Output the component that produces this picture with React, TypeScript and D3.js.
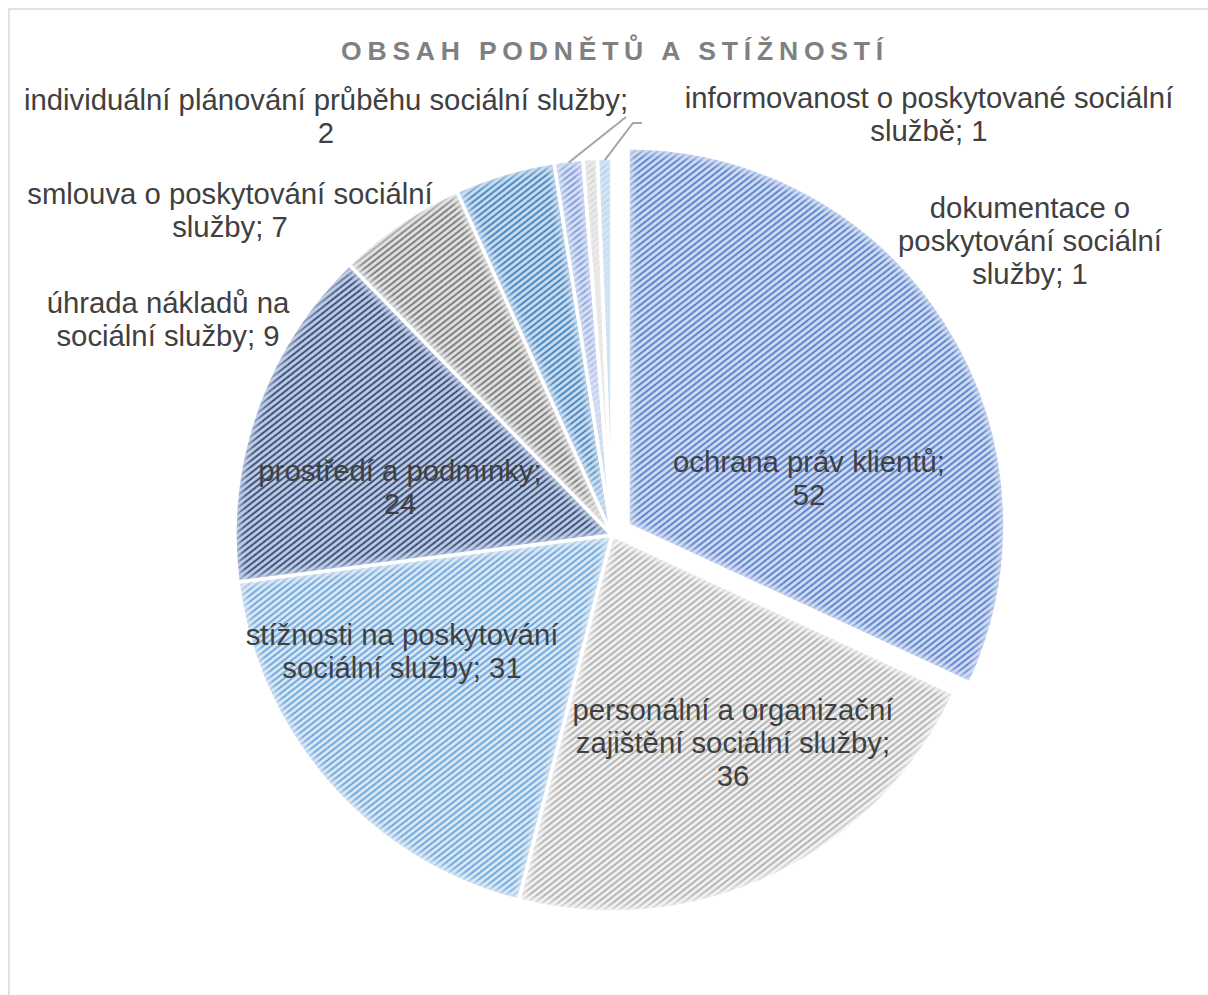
import React from "react";
import * as d3 from "d3";

const title = "OBSAH PODNĚTŮ A STÍŽNOSTÍ";
const categories = [
  "ochrana práv klientů",
  "personální a organizační zajištění sociální služby",
  "stížnosti na poskytování sociální služby",
  "prostředí a podmínky",
  "úhrada nákladů na sociální služby",
  "smlouva o poskytování sociální služby",
  "individuální plánování průběhu sociální služby",
  "dokumentace o poskytování sociální služby",
  "informovanost o poskytované sociální službě",
];
const values = [52, 36, 31, 24, 9, 7, 2, 1, 1];

// styling (background tint, stripe colour) per slice
const bgColors = ["#d3ddf3", "#f3f3f3", "#dce9f6", "#c2cfe9", "#e4e4e4", "#cddff1", "#d9e1f4", "#ebebeb", "#d6e6f5"];
const stripeColors = ["#4472c4", "#a6a6a6", "#5b9bd5", "#203864", "#6a6a6a", "#2e75b6", "#6f8fd6", "#bdbdbd", "#8fbbe3"];

// layout: words per label line, label anchor (page coords), leader lines
const lineWords = [[3, 1], [3, 3, 1], [3, 3], [3, 1], [3, 3], [4, 2], [5, 1], [2, 2, 2], [4, 2]];
const labelPos: [number, number][] = [
  [809, 472], [733, 720], [402, 645], [400, 481], [168, 313], [230, 204], [326, 110], [1030, 218], [929, 108],
];
const leaderStart: ([number, number][] | null)[] = [
  null, null, null, null, null, null,
  [[626, 117]],
  null,
  [[642, 123], [633, 123]],
];

const CX = 612, CY = 535, R = 377, EXPLODE = 19;
const LINE_H = 33;
const FONT = "'Liberation Sans', Arial, sans-serif";

export default function App() {
  const pie = d3.pie<number>().sort(null).value((d) => d);
  const arcs = pie(values);
  const arc = d3.arc<d3.PieArcDatum<number>>().innerRadius(0).outerRadius(R);

  const labelLines = categories.map((c, i) => {
    const words = `${c}; ${values[i]}`.split(" ");
    const out: string[] = [];
    let k = 0;
    for (const n of lineWords[i]) {
      out.push(words.slice(k, k + n).join(" "));
      k += n;
    }
    return out;
  });

  return (
    <svg
      width={1200}
      height={987}
      style={{ position: "fixed", left: 8, top: 8, background: "#fff" }}
    >
      <defs>
        {values.map((_, i) => (
          <pattern
            key={i}
            id={`pat${i}`}
            patternUnits="userSpaceOnUse"
            width={8}
            height={4.8}
            patternTransform="rotate(-38)"
          >
            <rect width={8} height={4.8} fill={bgColors[i]} />
            <rect y={1.5} width={8} height={1.7} fill={stripeColors[i]} />
          </pattern>
        ))}
        <filter id="blur" x="-10%" y="-10%" width="120%" height="120%">
          <feGaussianBlur stdDeviation={3} />
        </filter>
        {arcs.map((a, i) => (
          <clipPath key={i} id={`clip${i}`}>
            <path d={arc(a) || ""} />
          </clipPath>
        ))}
      </defs>
      <g transform="translate(-8,-8)">
        <rect x={9} y={9} width={1400} height={1200} fill="#fff" stroke="#d9d9d9" strokeWidth={1.5} />
        <text
          x={615}
          y={60}
          textAnchor="middle"
          fontFamily={FONT}
          fontWeight="bold"
          fontSize={26.5}
          letterSpacing={5.8}
          fill="#808080"
        >
          {title}
        </text>
        {arcs.map((a, i) => {
          const mid = (a.startAngle + a.endAngle) / 2;
          const off = i === 0 ? EXPLODE : 0;
          const dx = Math.sin(mid) * off;
          const dy = -Math.cos(mid) * off;
          const d = arc(a) || "";
          return (
            <g key={i} transform={`translate(${CX + dx},${CY + dy})`}>
              <path d={d} fill={`url(#pat${i})`} />
              <g clipPath={`url(#clip${i})`}>
                <path d={d} fill="none" stroke={bgColors[i]} strokeWidth={10} opacity={0.85} filter="url(#blur)" />
              </g>
              <path d={d} fill="none" stroke="#fff" strokeWidth={3.5} strokeLinejoin="round" />
            </g>
          );
        })}
        {arcs.map((a, i) => {
          const st = leaderStart[i];
          if (!st) return null;
          const mid = (a.startAngle + a.endAngle) / 2;
          const ex = CX + Math.sin(mid) * (R - 2);
          const ey = CY - Math.cos(mid) * (R - 2);
          const pts = [...st, [ex, ey]];
          return (
            <polyline
              key={i}
              points={pts.map((p) => p.join(",")).join(" ")}
              fill="none"
              stroke="#a6a6a6"
              strokeWidth={2}
            />
          );
        })}
        {labelLines.map((lines, i) => (
          <text
            key={i}
            textAnchor="middle"
            fontFamily={FONT}
            fontSize={29.3}
            fill="#404040"
          >
            {lines.map((l, j) => (
              <tspan key={j} x={labelPos[i][0]} y={labelPos[i][1] + j * LINE_H}>
                {l}
              </tspan>
            ))}
          </text>
        ))}
      </g>
    </svg>
  );
}
